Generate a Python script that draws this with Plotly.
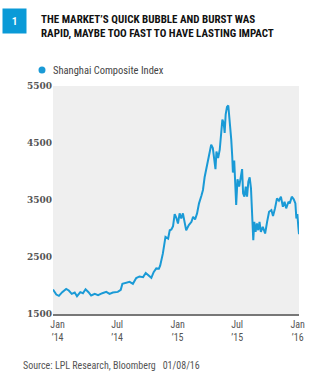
import plotly.graph_objects as go

dates = ["2013-12-18","2013-12-28","2014-01-05","2014-01-15","2014-01-27","2014-02-04","2014-02-13","2014-02-22",
"2014-03-01","2014-03-11","2014-03-19","2014-03-27","2014-04-05","2014-04-13","2014-04-24","2014-05-04",
"2014-05-17","2014-05-29","2014-06-08","2014-06-18","2014-07-03","2014-07-12","2014-07-17","2014-07-29",
"2014-08-08","2014-08-18","2014-08-28","2014-09-07","2014-09-18","2014-09-26","2014-10-06","2014-10-13",
"2014-10-20","2014-10-28","2014-11-05","2014-11-09","2014-11-17","2014-11-25","2014-12-03","2014-12-08",
"2014-12-13","2014-12-18","2014-12-23","2014-12-28","2015-01-02","2015-01-07","2015-01-12","2015-01-17",
"2015-01-22","2015-01-27","2015-02-04","2015-02-12","2015-02-17","2015-02-23","2015-03-01","2015-03-07",
"2015-03-14","2015-03-19","2015-03-24","2015-03-29","2015-04-03","2015-04-08","2015-04-13","2015-04-18",
"2015-04-22","2015-04-26","2015-04-29","2015-05-04","2015-05-09","2015-05-14","2015-05-17","2015-05-21",
"2015-05-24","2015-05-27","2015-05-31","2015-06-04","2015-06-07","2015-06-10","2015-06-13","2015-06-16",
"2015-06-18","2015-06-22","2015-06-25","2015-06-28","2015-07-02","2015-07-07","2015-07-12","2015-07-16",
"2015-07-19","2015-07-23","2015-07-27","2015-07-31","2015-08-04","2015-08-08","2015-08-12","2015-08-16",
"2015-08-19","2015-08-22","2015-08-26","2015-08-30","2015-09-03","2015-09-07","2015-09-11","2015-09-17",
"2015-09-24","2015-09-30","2015-10-06","2015-10-13","2015-10-18","2015-10-24","2015-10-30","2015-11-05",
"2015-11-11","2015-11-17","2015-11-22","2015-11-27","2015-12-04","2015-12-08","2015-12-14","2015-12-20",
"2015-12-25","2015-12-28","2015-12-31","2016-01-03","2016-01-05"]

values = [1930,1841,1818,1883,1941,1912,1853,1877,
1812,1883,1865,1935,1883,1824,1853,1830,
1865,1888,1853,1877,1888,1924,2030,2053,
2065,2030,2130,2159,2147,2218,2171,2135,
2235,2300,2294,2353,2559,2853,2824,2970,
2982,3041,3253,3188,3088,3265,3176,3265,
3117,2970,3059,3117,3206,3159,3265,3441,
3570,3676,3899,4029,4176,4293,4470,4411,
4205,4041,4352,4235,4382,4676,4911,4852,
4676,4999,5134,5158,4970,4881,4558,4264,
3982,4194,3794,3411,3864,3735,3899,4041,
3617,3558,3735,3558,3823,3899,3705,3265,
2794,3117,2941,3088,2970,3117,2941,3029,
2912,3117,3294,3323,3218,3353,3529,3488,
3558,3382,3470,3353,3470,3441,3558,3512,
3441,3176,3253,3029,2900]

tick_vals = ["2014-01-01","2014-07-01","2015-01-01","2015-07-01","2016-01-01"]
tick_text = ["Jan<br>\u201914","Jul<br>\u201914","Jan<br>\u201915","Jul<br>\u201915","Jan<br>\u201916"]
y_ticks = [1500, 2500, 3500, 4500, 5500]

title_lines = ["THE MARKET\u2019S QUICK BUBBLE AND BURST WAS", "RAPID, MAYBE TOO FAST TO HAVE LASTING IMPACT"]
series_name = "Shanghai Composite Index"
source = "Source: LPL Research, Bloomberg   01/08/16"

BLUE = "#1a9ad6"
COND = "Liberation Sans Narrow, Roboto Condensed, Arial Narrow, Roboto, sans-serif"

L, R, T, B = 53, 26, 86, 62
W, H = 325, 376
PW, PH = W - L - R, H - T - B

def px(x):
    return (x - L) / PW

def py(y):
    return (H - B - y) / PH

fig = go.Figure()
fig.add_trace(go.Scatter(x=dates, y=values, mode="lines", name=series_name,
                         line=dict(color=BLUE, width=2), showlegend=False))

fig.update_layout(
    width=W, height=H,
    margin=dict(l=L, r=R, t=T, b=B),
    paper_bgcolor="white", plot_bgcolor="#efefef",
    xaxis=dict(type="date", range=[dates[0], dates[-1]], tickvals=tick_vals, ticktext=tick_text,
               showgrid=False, zeroline=False, showline=True, linecolor="#777", linewidth=2,
               ticks="", tickfont=dict(family=COND, size=10, color="#555")),
    yaxis=dict(range=[1500, 5500], tickvals=y_ticks, showgrid=False, zeroline=False,
               showline=False, ticks="", ticksuffix=" ",
               tickfont=dict(family="DejaVu Serif", size=9, color="#555", weight="bold")),
    font=dict(family=COND),
    annotations=[
        dict(text="<b>1</b>", x=px(14.5), y=py(21), xref="paper", yref="paper",
             showarrow=False, width=21, height=22, bgcolor="#0a9ad7",
             font=dict(color="white", size=10, family="Roboto"), xanchor="center", yanchor="middle"),
        dict(text="<b>" + "<br>".join(title_lines) + "</b>", x=px(39), y=py(11), xref="paper", yref="paper",
             showarrow=False, xanchor="left", yanchor="top", align="left",
             font=dict(color="#111", size=11, family=COND)),
        dict(text=series_name, x=px(51), y=py(70), xref="paper", yref="paper",
             showarrow=False, xanchor="left", yanchor="middle", align="left",
             font=dict(color="#444", size=10.5, family=COND)),
        dict(text=source, x=px(21), y=py(365), xref="paper", yref="paper",
             showarrow=False, xanchor="left", yanchor="middle", align="left",
             font=dict(color="#555", size=10, family=COND)),
    ],
    shapes=[
        dict(type="circle", xref="paper", yref="paper", x0=px(38.5), x1=px(45.5), y0=py(73.5), y1=py(66.5),
             fillcolor=BLUE, line=dict(width=0)),
    ],
)

fig.write_html("out.html")
